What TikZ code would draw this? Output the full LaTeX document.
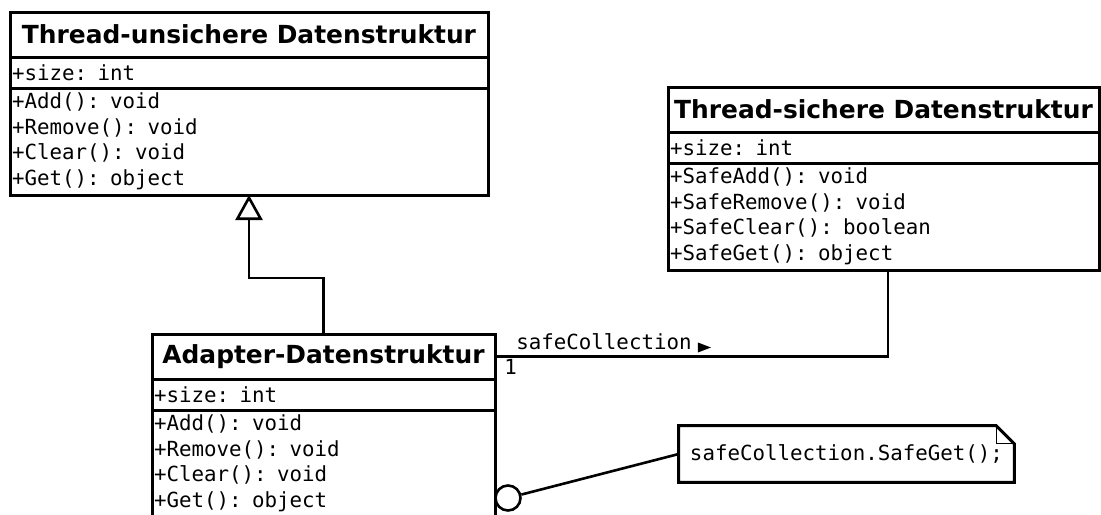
\documentclass[tikz,border=0pt]{standalone}
\usepackage{fontspec}
\setsansfont{DejaVu Sans}
\setmonofont{DejaVu Sans Mono}
\usetikzlibrary{arrows.meta}
\usetikzlibrary{positioning}

\begin{document}
\begin{tikzpicture}[x=0.5pt,y=-0.5pt,line width=1.3pt,
  classname/.style={draw,line width=1.5pt,outer sep=0pt,inner sep=1pt,minimum height=22.5pt,
    minimum width=#1,font=\sffamily\bfseries\fontsize{12.45}{15}\selectfont},
  classattr/.style={draw,line width=1.5pt,outer sep=0pt,inner xsep=1pt,inner ysep=0pt,
    minimum height=15.5pt,text width=#1,align=left,font=\ttfamily\fontsize{10.4}{12.75}\selectfont},
  classops/.style={classattr=#1,minimum height=53.5pt},
  mono/.style={font=\ttfamily\fontsize{10.4}{12.75}\selectfont},
  conn/.style={line width=1.3pt}]

  \clip (0,0) rectangle (1101,514);
  \fill[white] (0,0) rectangle (1101,514);

  % thread-unsafe class
  \node[classname=239pt,anchor=north west] (unsafe) at (10,12) {Thread-unsichere Datenstruktur};
  \node[classattr=237pt,below=0pt of unsafe] (unsafeattr) {+size: int};
  \node[classops=237pt,below=0pt of unsafeattr] (unsafeops) {+Add(): void\\+Remove(): void\\+Clear(): void\\+Get(): object};

  % thread-safe class
  \node[classname=215.5pt,anchor=north west] (safe) at (668,87) {Thread-sichere Datenstruktur};
  \node[classattr=213.5pt,below=0pt of safe] (safeattr) {+size: int};
  \node[classops=213.5pt,below=0pt of safeattr] (safeops) {+SafeAdd(): void\\+SafeRemove(): void\\+SafeClear(): boolean\\+SafeGet(): object};

  % adapter class
  \node[classname=171.5pt,anchor=north west] (adapter) at (152,334) {Adapter-Datenstruktur};
  \node[classattr=169.5pt,below=0pt of adapter] (adapterattr) {+size: int};
  \node[classops=169.5pt,below=0pt of adapterattr] (adapterops) {+Add(): void\\+Remove(): void\\+Clear(): void\\+Get(): object};

  % generalization
  \draw[conn,-{Triangle[open,width=13.5pt,length=12.5pt]}] (adapter.north) -- ++(0,-56) -| (unsafeops.south);

  % association
  \draw[conn] (adapter.east) -| ([xshift=2.25pt]safeops.south);
  \node[mono,anchor=base west,inner sep=0pt] (role) at ([shift={(20,-7)}]adapter.east) {safeCollection};
  \fill ([shift={(5,3)}]role.base east) -- ++(13,-5) -- ++(-13,-5) -- cycle;
  \node[mono,anchor=base west,inner sep=0pt] (mult) at ([shift={(8,18)}]adapter.east) {1};

  % note
  \node[mono,minimum width=166.5pt,minimum height=27pt,inner sep=0pt] (note) at (846.5,454) {safeCollection.SafeGet();};
  \draw[line width=1.5pt] (note.south west) -- (note.north west) -- ([xshift=-9pt]note.north east)
    -- ([yshift=-9pt]note.north east) -- (note.south east) -- cycle;
  \draw[line width=0.6pt] ([xshift=-9pt]note.north east) |- ([yshift=-9pt]note.north east);
  \node[conn,circle,draw,fill=white,minimum size=12.5pt,inner sep=0pt] (ball) at (508,498) {};
  \draw[conn] (ball) -- (note.west);
\end{tikzpicture}
\end{document}
